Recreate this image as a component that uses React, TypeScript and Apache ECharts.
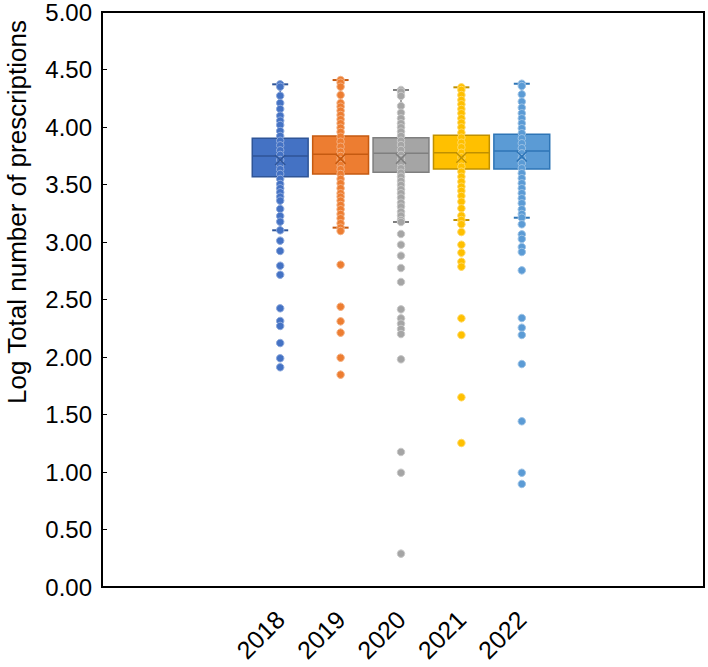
import React, { useEffect, useRef } from "react";
import * as echarts from "echarts";

const years = ["2018", "2019", "2020", "2021", "2022"];
const colors = ["#4472C4", "#ED7D31", "#A5A5A5", "#FFC000", "#5B9BD5"];
const darkColors = ["#2F5597", "#C55A11", "#7F7F7F", "#BF9000", "#2E75B6"];
const lightColors = ["#8FAADC", "#F4B183", "#C9C9C9", "#FFD966", "#9DC3E6"];

const q1 = [3.556, 3.579, 3.594, 3.622, 3.622];
const median = [3.735, 3.75, 3.758, 3.763, 3.778];
const q3 = [3.888, 3.908, 3.893, 3.914, 3.923];
const whiskerLow = [3.091, 3.114, 3.163, 3.18, 3.2];
const whiskerHigh = [4.356, 4.393, 4.307, 4.33, 4.361];
const means = [3.7, 3.71, 3.71, 3.72, 3.73];

const points2018 = [4.356, 4.335, 4.257, 4.194, 4.142, 4.084, 4.041, 4.003, 3.951, 3.908, 3.867, 3.827, 3.784, 3.744, 3.7, 3.657, 3.62, 3.579, 3.536, 3.492, 3.455, 3.42, 3.382, 3.348, 3.276, 3.215, 3.166, 3.091,
  3.001, 2.912, 2.784, 2.706, 2.415, 2.305, 2.262, 2.114, 1.982, 1.904];
const points2019 = [4.393, 4.37, 4.335, 4.263, 4.194, 4.162, 4.127, 4.09, 4.053, 4.018, 3.98, 3.943, 3.902, 3.859, 3.815, 3.772, 3.735, 3.7, 3.657, 3.62, 3.579, 3.536, 3.498, 3.455, 3.412, 3.382, 3.348, 3.31, 3.273, 3.232, 3.195, 3.152, 3.114,
  3.085, 2.793, 2.429, 2.302, 2.204, 1.987, 1.84];
const points2020 = [4.307, 4.292, 4.255, 4.168, 4.11, 4.061, 4.018, 3.983, 3.946, 3.908, 3.867, 3.83, 3.787, 3.744, 3.706, 3.666, 3.628, 3.59, 3.555, 3.518, 3.484, 3.446, 3.412, 3.374, 3.33, 3.296, 3.252, 3.218, 3.18, 3.163,
  3.059, 2.966, 2.871, 2.764, 2.643, 2.406, 2.328, 2.282, 2.236, 2.192, 1.973, 1.17, 0.99, 0.289];
const points2021 = [4.33, 4.307, 4.263, 4.22, 4.183, 4.142, 4.105, 4.061, 4.024, 3.983, 3.937, 3.894, 3.85, 3.81, 3.763, 3.723, 3.686, 3.642, 3.599, 3.555, 3.512, 3.469, 3.432, 3.388, 3.339, 3.281, 3.218, 3.18,
  3.143, 3.076, 2.966, 2.897, 2.819, 2.776, 2.328, 2.184, 1.644, 1.248];
const points2022 = [4.361, 4.341, 4.269, 4.206, 4.154, 4.105, 4.061, 4.018, 3.975, 3.932, 3.888, 3.845, 3.802, 3.758, 3.715, 3.672, 3.628, 3.585, 3.542, 3.498, 3.455, 3.412, 3.368, 3.325, 3.273, 3.232, 3.2,
  3.143, 3.056, 3.016, 2.946, 2.903, 2.744, 2.331, 2.247, 2.184, 1.932, 1.436, 0.99, 0.893];
const pointsByYear = [points2018, points2019, points2020, points2021, points2022];

const yTicks = [0, 0.5, 1, 1.5, 2, 2.5, 3, 3.5, 4, 4.5, 5];
const yTitle = "Log Total number of prescriptions";
const FONT = "'Liberation Sans', Arial, Helvetica, sans-serif";

export default function App() {
  const ref = useRef<HTMLDivElement>(null);
  useEffect(() => {
    if (!ref.current) return;
    const chart = echarts.init(ref.current, null, { renderer: "svg" });
    const boxData = years.map((_, i) => [i, whiskerLow[i], q1[i], median[i], q3[i], whiskerHigh[i]]);
    const meanData = years.map((_, i) => [i, means[i]]);
    const gridPos = { top: 10, bottom: 80 };
    const option: any = {
      animation: false,
      backgroundColor: "#fff",
      grid: [
        { left: 102, right: 4, ...gridPos, show: true, borderColor: "#000", borderWidth: 2, backgroundColor: "transparent" },
        { left: 250, right: 156, ...gridPos },
      ],
      xAxis: [
        { type: "value", gridIndex: 0, show: false, min: 0, max: 1 },
        {
          type: "category",
          gridIndex: 1,
          data: years,
          boundaryGap: true,
          axisLine: { show: false },
          axisTick: { show: false },
          axisLabel: { rotate: 45, fontSize: 25, color: "#000", fontFamily: FONT, margin: 28, interval: 0 },
        },
      ],
      yAxis: [
        {
          type: "value",
          gridIndex: 0,
          min: yTicks[0],
          max: yTicks[yTicks.length - 1],
          interval: 0.5,
          axisLine: { show: true, lineStyle: { color: "#000", width: 2 } },
          axisTick: { show: true, inside: true, length: 5, lineStyle: { color: "#000", width: 1 } },
          splitLine: { show: false },
          axisLabel: { fontSize: 24, color: "#000", fontFamily: FONT, margin: 10, formatter: (v: number) => v.toFixed(2) },
        },
        { type: "value", gridIndex: 1, min: 0, max: 5, show: false, splitLine: { show: false } },
      ],
      graphic: [
        {
          type: "text",
          x: 17,
          y: 212,
          rotation: Math.PI / 2,
          style: { text: yTitle, fontSize: 26, fontFamily: FONT, fill: "#000", align: "center", verticalAlign: "middle" },
        },
      ],
      series: [
        {
          type: "custom",
          xAxisIndex: 1,
          yAxisIndex: 1,
          z: 2,
          data: boxData,
          encode: { x: 0, y: [1, 2, 3, 4, 5] },
          renderItem: (params: any, api: any) => {
            const idx = api.value(0);
            const band = api.size([1, 0])[0];
            const w = band * 0.925;
            const capW = 8;
            const pLow = api.coord([idx, api.value(1)]);
            const pQ1 = api.coord([idx, api.value(2)]);
            const pMed = api.coord([idx, api.value(3)]);
            const pQ3 = api.coord([idx, api.value(4)]);
            const pHigh = api.coord([idx, api.value(5)]);
            const cx = pLow[0];
            const c = colors[params.dataIndex];
            const d = darkColors[params.dataIndex];
            const lineStyle = { stroke: d, lineWidth: 1.5 };
            return {
              type: "group",
              children: [
                { type: "line", shape: { x1: cx, y1: pLow[1], x2: cx, y2: pQ1[1] }, style: lineStyle },
                { type: "line", shape: { x1: cx, y1: pQ3[1], x2: cx, y2: pHigh[1] }, style: lineStyle },
                { type: "line", shape: { x1: cx - capW, y1: pLow[1], x2: cx + capW, y2: pLow[1] }, style: { stroke: d, lineWidth: 2 } },
                { type: "line", shape: { x1: cx - capW, y1: pHigh[1], x2: cx + capW, y2: pHigh[1] }, style: { stroke: d, lineWidth: 2 } },
                { type: "rect", shape: { x: cx - w / 2, y: pQ3[1], width: w, height: pQ1[1] - pQ3[1] }, style: { fill: c, stroke: d, lineWidth: 1.5 } },
                { type: "line", shape: { x1: cx - w / 2, y1: pMed[1], x2: cx + w / 2, y2: pMed[1] }, style: { stroke: d, lineWidth: 1.5 } },
              ],
            };
          },
        },
        ...pointsByYear.map((pts, i) => ({
          type: "scatter",
          xAxisIndex: 1,
          yAxisIndex: 1,
          z: 3,
          symbol: "circle",
          symbolSize: 7.5,
          data: pts.map((v) => [i, v]),
          itemStyle: { color: colors[i], borderColor: lightColors[i], borderWidth: 1, opacity: 1 },
        })),
        {
          type: "custom",
          xAxisIndex: 1,
          yAxisIndex: 1,
          z: 4,
          data: meanData,
          encode: { x: 0, y: 1 },
          renderItem: (params: any, api: any) => {
            const p = api.coord([api.value(0), api.value(1)]);
            const s = 5;
            const d = darkColors[params.dataIndex];
            return {
              type: "group",
              children: [
                { type: "line", shape: { x1: p[0] - s, y1: p[1] - s, x2: p[0] + s, y2: p[1] + s }, style: { stroke: d, lineWidth: 1.5 } },
                { type: "line", shape: { x1: p[0] - s, y1: p[1] + s, x2: p[0] + s, y2: p[1] - s }, style: { stroke: d, lineWidth: 1.5 } },
              ],
            };
          },
        },
      ],
    };
    chart.setOption(option);
    return () => chart.dispose();
  }, []);
  return <div ref={ref} style={{ width: 708, height: 667, position: "absolute", left: 0, top: 0 }} />;
}
